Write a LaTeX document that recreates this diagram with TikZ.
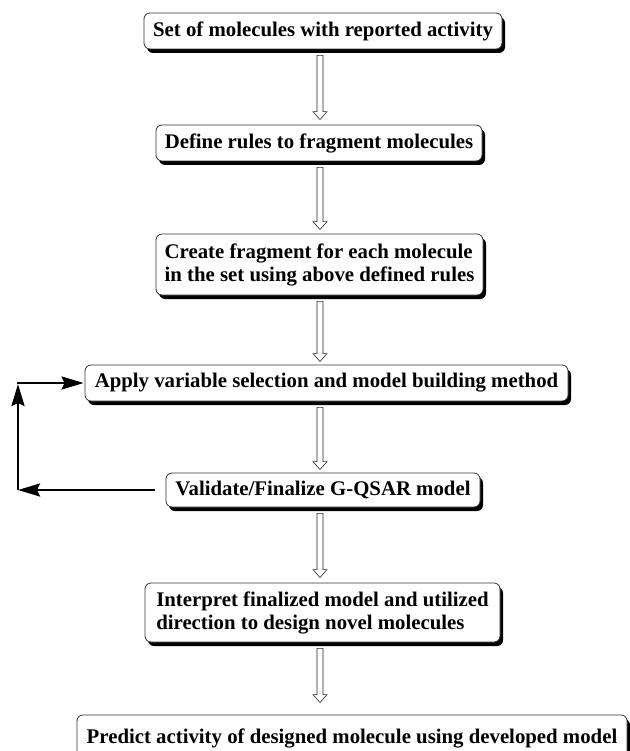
\documentclass[tikz,border=0pt]{standalone}
\usepackage{fontspec}
\setmainfont{Liberation Serif}
\usetikzlibrary{shadows,arrows.meta,calc}

\tikzset{
  stage/.style={draw=black!80, line width=0.8pt, rounded corners=6pt, fill=white,
    inner sep=0pt, align=left,
    font=\fontsize{20.8}{23}\selectfont\bfseries,
    drop shadow={shadow xshift=3pt, shadow yshift=-4pt, fill=black, opacity=1}},
  hollow/.style={draw=black!85, line width=0.6pt, fill=white, line join=miter},
  loopline/.style={line width=2.6pt, -{Stealth[length=22pt,width=13pt,inset=3pt]}},
}

% hollow block arrow: from node #1 down to node #2, tip #3 pt above #2
\newcommand{\openarrow}[3]{%
  \draw[hollow] let \p1=(#1.south), \p2=(#2.north) in
    (317pt,\y1-6pt) -- (317pt,\y2+#3pt+8pt) -- (313pt,\y2+#3pt+8pt) --
    (320pt,\y2+#3pt) -- (327pt,\y2+#3pt+8pt) -- (323pt,\y2+#3pt+8pt) --
    (323pt,\y1-6pt) -- cycle;}

\begin{document}
\begin{tikzpicture}[x=1pt, y=-1pt]
  \useasboundingbox (0,0) rectangle (629,751);

  \node[stage, minimum width=358pt, minimum height=36pt] (B1) at (323,31)
    {Set of molecules with reported activity};
  \node[stage, minimum width=326pt, minimum height=36pt] (B2) at (319,143)
    {Define rules to fragment molecules};
  \node[stage, minimum width=327pt, minimum height=61pt] (B3) at (319.5,264.5)
    {Create fragment for each molecule\\in the set using above defined rules};
  \node[stage, minimum width=483pt, minimum height=36pt] (B4) at (326.5,383)
    {Apply variable selection and model building method};
  \node[stage, minimum width=314pt, minimum height=34pt] (B5) at (323,490)
    {Validate/Finalize G-QSAR model};
  \node[stage, minimum width=355pt, minimum height=59pt] (B6) at (322.5,612.5)
    {Interpret finalized model and utilized\\direction to design novel molecules};
  \node[stage, minimum width=550pt, minimum height=46pt] (B7) at (352,738)
    {Predict activity of designed molecule using developed model};

  \openarrow{B1}{B2}{5}
  \openarrow{B2}{B3}{4}
  \openarrow{B3}{B4}{3}
  \openarrow{B4}{B5}{3}
  \openarrow{B5}{B6}{5}
  \openarrow{B6}{B7}{12}

  % feedback loop from validation back to model building
  \coordinate (lb) at (18,490);
  \coordinate (lt) at (18,383);
  \draw[loopline, shorten <=11pt] (B5.west) -- (lb);
  \draw[loopline, shorten >=1pt] (lb) -- (lt);
  \draw[loopline, line cap=rect, shorten >=1pt] (lt) -- (B4.west);
\end{tikzpicture}
\end{document}
